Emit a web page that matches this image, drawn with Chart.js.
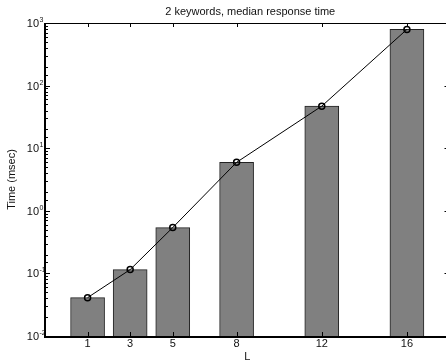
<!DOCTYPE html>
<html>
<head>
<meta charset="utf-8">
<script src="https://cdn.jsdelivr.net/npm/chart.js@4/dist/chart.umd.min.js"></script>
<style>
  html, body { margin: 0; padding: 0; background: #fff; overflow: hidden; }
  #wrap { width: 446px; height: 364px; overflow: hidden; }
</style>
</head>
<body>
<div id="wrap"><canvas id="myChart" width="455" height="364"></canvas></div>
<script>
// data
var L = [1, 3, 5, 8, 12, 16];
var timeMs = [0.041, 0.115, 0.54, 5.95, 47, 790];
var yDecades = [-2, -1, 0, 1, 2, 3];
var chartTitle = '2 keywords, median response time';
var xTitle = 'L';
var yTitle = 'Time (msec)';

var FONT = '"Liberation Sans", Arial, sans-serif';

var points = L.map(function (l, i) { return { x: l, y: timeMs[i] }; });

// axes, inward ticks, labels and titles drawn by hand
var axesPlugin = {
  id: 'axesPlugin',
  afterDraw: function (chart) {
    var c = chart.ctx, a = chart.chartArea;
    var xs = chart.scales.x, ys = chart.scales.y;
    c.save();
    c.strokeStyle = '#000';
    c.fillStyle = '#111';

    // frame
    c.lineWidth = 1;
    c.beginPath();
    c.moveTo(a.left, a.top + 0.5); c.lineTo(a.right, a.top + 0.5);
    c.moveTo(a.right - 0.5, a.top); c.lineTo(a.right - 0.5, a.bottom);
    c.stroke();
    c.lineWidth = 2;
    c.beginPath();
    c.moveTo(a.left, a.top); c.lineTo(a.left, a.bottom + 1);
    c.lineTo(a.right, a.bottom + 1);
    c.stroke();

    // y ticks (log, major + minor)
    c.lineWidth = 1;
    c.beginPath();
    ys.ticks.forEach(function (t) {
      var e = Math.log10(t.value);
      var major = Math.abs(e - Math.round(e)) < 1e-6;
      var py = Math.round(ys.getPixelForValue(t.value)) + 0.5;
      var len = major ? 5 : 3;
      c.moveTo(a.left, py); c.lineTo(a.left + len, py);
      if (major) { c.moveTo(a.right, py); c.lineTo(a.right - 5, py); }
    });
    // x ticks top and bottom
    L.forEach(function (v) {
      var px = Math.round(xs.getPixelForValue(v)) + 0.5;
      c.moveTo(px, a.top); c.lineTo(px, a.top + 4);
      c.moveTo(px, a.bottom); c.lineTo(px, a.bottom - 4);
    });
    c.stroke();

    // y tick labels 10^n
    yDecades.forEach(function (e) {
      var py = ys.getPixelForValue(Math.pow(10, e));
      c.font = '11px ' + FONT;
      c.textAlign = 'right';
      c.textBaseline = 'middle';
      c.fillText('10', 39, py + 1);
      c.font = '7px ' + FONT;
      c.textAlign = 'left';
      c.textBaseline = 'alphabetic';
      c.fillText(String(e), 39.5, py - 1);
    });

    // x tick labels
    c.font = '11px ' + FONT;
    c.textAlign = 'center';
    c.textBaseline = 'middle';
    L.forEach(function (v) {
      c.fillText(String(v), xs.getPixelForValue(v), 344);
    });

    // titles
    var cx = (a.left + a.right) / 2;
    c.fillText(xTitle, cx, 357);
    c.fillText(chartTitle, cx + 3, 12);
    c.translate(12, (a.top + a.bottom) / 2);
    c.rotate(-Math.PI / 2);
    c.fillText(yTitle, 0, 0);
    c.restore();
  }
};

var ctx = document.getElementById('myChart').getContext('2d');
var myChart = new Chart(ctx, {
  data: {
    datasets: [{
      type: 'line',
      order: 0,
      data: points,
      borderColor: '#000',
      borderWidth: 1,
      pointRadius: 3,
      pointBorderWidth: 1.5,
      pointBorderColor: '#000',
      pointBackgroundColor: 'rgba(0,0,0,0)',
      tension: 0
    }, {
      type: 'bar',
      order: 1,
      data: points,
      backgroundColor: '#808080',
      borderColor: '#222',
      borderWidth: 1,
      barThickness: 34
    }]
  },
  options: {
    responsive: false,
    animation: false,
    layout: { padding: { left: 45, right: 1, top: 23, bottom: 28 } },
    plugins: { legend: { display: false }, tooltip: { enabled: false }, title: { display: false } },
    scales: {
      x: {
        type: 'linear',
        min: -1,
        max: 18,
        offset: false,
        grid: { display: false, offset: false },
        border: { display: false },
        ticks: { display: false },
        afterFit: function (s) { s.height = 0; }
      },
      y: {
        type: 'logarithmic',
        min: 0.01,
        max: 1000,
        grid: { display: false },
        border: { display: false },
        ticks: { display: false },
        afterFit: function (s) { s.width = 0; }
      }
    }
  },
  plugins: [axesPlugin]
});
</script>
</body>
</html>
